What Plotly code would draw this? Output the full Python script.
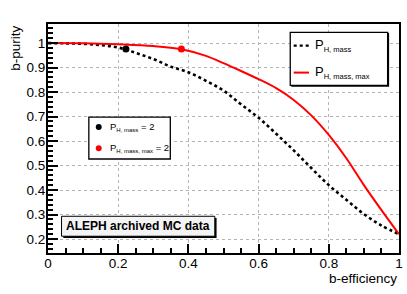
import plotly.graph_objects as go

# ---- data ----
eff_mass = [0.0, 0.05, 0.10, 0.15, 0.20, 0.25, 0.30, 0.35, 0.40, 0.45, 0.50, 0.55,
            0.60, 0.65, 0.70, 0.75, 0.80, 0.85, 0.90, 0.95, 1.00]
pur_mass = [1.0, 0.999, 0.997, 0.992, 0.982, 0.960, 0.935, 0.904, 0.881, 0.846, 0.806, 0.750,
            0.695, 0.630, 0.562, 0.490, 0.420, 0.360, 0.302, 0.255, 0.220]

eff_max = [0.0, 0.10, 0.20, 0.30, 0.38, 0.45, 0.50, 0.55, 0.60, 0.65, 0.70, 0.75,
           0.80, 0.85, 0.90, 0.95, 1.00]
pur_max = [1.0, 0.999, 0.995, 0.988, 0.975, 0.948, 0.918, 0.886, 0.853, 0.816, 0.768, 0.705,
           0.625, 0.530, 0.420, 0.318, 0.220]

wp_mass = ([0.222], [0.976])
wp_max = ([0.380], [0.976])

x_ticks = [0, 0.2, 0.4, 0.6, 0.8, 1]
x_ticklabels = ["0", "0.2", "0.4", "0.6", "0.8", "1"]
y_ticks = [0.2, 0.3, 0.4, 0.5, 0.6, 0.7, 0.8, 0.9, 1.0]
y_ticklabels = ["0.2", "0.3", "0.4", "0.5", "0.6", "0.7", "0.8", "0.9", "1"]

legend_lines = ["P<sub><span style='font-size:7.5px'>H, mass</span></sub>",
                "P<sub><span style='font-size:7.5px'>H, mass, max</span></sub>"]
legend_points = ["P<sub><span style='font-size:6px'>H, mass</span></sub> = 2",
                 "P<sub><span style='font-size:6px'>H, mass, max</span></sub> = 2"]
label_text = "<b>ALEPH archived MC data</b>"

# ---- layout geometry (pixels) ----
W, H = 407, 294
L, R, T, B = 48, 4, 24, 40.5
PW = W - L - R
PH = H - T - B


def px(x):
    return (x - L) / PW


def py(y):
    return (H - B - y) / PH


FONT = "Liberation Sans, Arial, Helvetica, sans-serif"

fig = go.Figure()
fig.add_trace(go.Scatter(x=eff_mass, y=pur_mass, mode="lines", line_shape="spline",
                         line=dict(color="black", width=2.6, dash="dot"),
                         showlegend=False))
fig.add_trace(go.Scatter(x=eff_max, y=pur_max, mode="lines", line_shape="spline",
                         line=dict(color="#ff0000", width=2),
                         showlegend=False))
fig.add_trace(go.Scatter(x=wp_mass[0], y=wp_mass[1], mode="markers",
                         marker=dict(color="black", size=7), showlegend=False))
fig.add_trace(go.Scatter(x=wp_max[0], y=wp_max[1], mode="markers",
                         marker=dict(color="#ff0000", size=7), showlegend=False))

shapes = []
annotations = []

# Legend 1 (lines)
shapes.append(dict(type="rect", xref="paper", yref="paper",
                   x0=px(294), x1=px(393), y0=py(87), y1=py(33),
                   line=dict(color="black", width=0), fillcolor="black", layer="above"))
shapes.append(dict(type="rect", xref="paper", yref="paper",
                   x0=px(293), x1=px(391.5), y0=py(85.5), y1=py(32.3),
                   line=dict(color="black", width=1.3), fillcolor="white", layer="above"))
shapes.append(dict(type="line", xref="paper", yref="paper",
                   x0=px(296.5), x1=px(312), y0=py(45.7), y1=py(45.7),
                   line=dict(color="black", width=2.2, dash="dot"), layer="above"))
shapes.append(dict(type="line", xref="paper", yref="paper",
                   x0=px(296.5), x1=px(312), y0=py(72.7), y1=py(72.7),
                   line=dict(color="#ff0000", width=2), layer="above"))
annotations.append(dict(xref="paper", yref="paper", x=px(316), y=py(45.5),
                        xanchor="left", yanchor="middle", showarrow=False,
                        text=legend_lines[0], font=dict(family=FONT, size=13, color="black")))
annotations.append(dict(xref="paper", yref="paper", x=px(316), y=py(72.5),
                        xanchor="left", yanchor="middle", showarrow=False,
                        text=legend_lines[1], font=dict(family=FONT, size=13, color="black")))

# Legend 2 (points)
shapes.append(dict(type="rect", xref="paper", yref="paper",
                   x0=px(89.3), x1=px(171.7), y0=py(159.3), y1=py(117.3),
                   line=dict(color="black", width=1.3), fillcolor="white", layer="above"))
for yy, col in [(127.3, "black"), (148.5, "#ff0000")]:
    shapes.append(dict(type="circle", xref="paper", yref="paper",
                       x0=px(96.3), x1=px(102.3), y0=py(yy + 3), y1=py(yy - 3),
                       line=dict(color=col, width=0), fillcolor=col, layer="above"))
annotations.append(dict(xref="paper", yref="paper", x=px(108.5), y=py(127),
                        xanchor="left", yanchor="middle", showarrow=False,
                        text=legend_points[0], font=dict(family=FONT, size=9.5, color="black")))
annotations.append(dict(xref="paper", yref="paper", x=px(108.5), y=py(148.5),
                        xanchor="left", yanchor="middle", showarrow=False,
                        text=legend_points[1], font=dict(family=FONT, size=9.5, color="black")))

# ALEPH label box with shadow
shapes.append(dict(type="rect", xref="paper", yref="paper",
                   x0=px(63.5), x1=px(218.5), y0=py(238.5), y1=py(218.5),
                   line=dict(width=0), fillcolor="black", layer="above"))
shapes.append(dict(type="rect", xref="paper", yref="paper",
                   x0=px(61.7), x1=px(216.7), y0=py(236.7), y1=py(216.7),
                   line=dict(color="black", width=1), fillcolor="#f4f4f4", layer="above"))
annotations.append(dict(xref="paper", yref="paper", x=px(139.2), y=py(226.8),
                        xanchor="center", yanchor="middle", showarrow=False,
                        text=label_text, font=dict(family=FONT, size=12, color="black")))

# axis titles
annotations.append(dict(xref="paper", yref="paper", x=1.0, y=py(279),
                        xanchor="right", yanchor="middle", showarrow=False,
                        text="b-efficiency", font=dict(family=FONT, size=13.5, color="black")))
annotations.append(dict(xref="paper", yref="paper", x=px(15), y=1.0,
                        xanchor="center", yanchor="top", showarrow=False, textangle=-90,
                        text="b-purity", font=dict(family=FONT, size=13.5, color="black")))

axis_common = dict(showline=True, linecolor="black", linewidth=2, mirror=True,
                   ticks="inside", tickcolor="black", tickwidth=1.5,
                   showgrid=True, gridcolor="#b4b4b4", griddash="dot", gridwidth=1,
                   zeroline=False,
                   tickfont=dict(family=FONT, size=13.5, color="black"))

fig.update_xaxes(range=[0, 1], tickvals=x_ticks, ticktext=x_ticklabels, ticklen=9,
                 ticklabelstandoff=-3,
                 minor=dict(dtick=0.05, tick0=0, ticks="inside", ticklen=5,
                            tickcolor="black", tickwidth=1.5, showgrid=False),
                 **axis_common)
fig.update_yaxes(range=[0.143, 1.078], tickvals=y_ticks, ticktext=y_ticklabels, ticklen=10,
                 ticklabelstandoff=-2,
                 minor=dict(dtick=0.02, tick0=0, ticks="inside", ticklen=5,
                            tickcolor="black", tickwidth=1.5, showgrid=False),
                 **axis_common)

fig.update_layout(width=W, height=H, margin=dict(l=L, r=R, t=T, b=B),
                  plot_bgcolor="white", paper_bgcolor="white",
                  shapes=shapes, annotations=annotations, showlegend=False)

fig.write_html("out.html", config={"displayModeBar": False},
               post_script="document.body.style.margin='0';document.body.style.padding='0';")
